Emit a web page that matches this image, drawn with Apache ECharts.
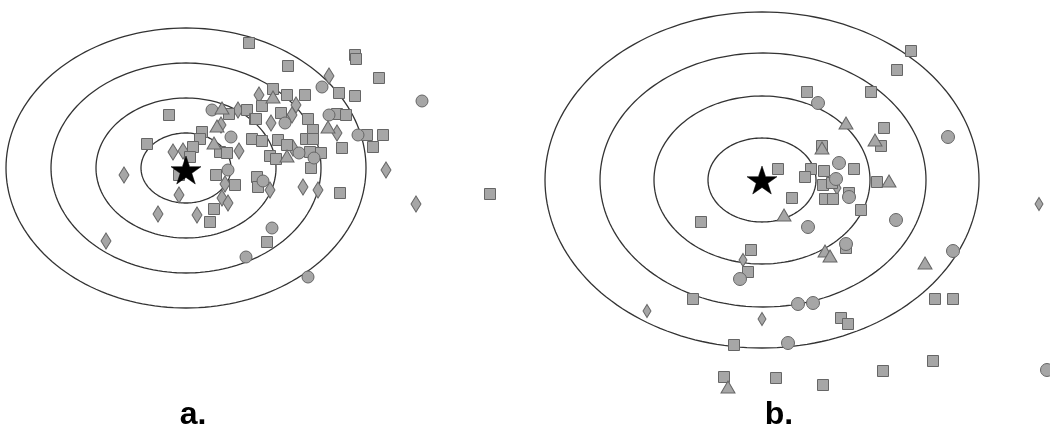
<!DOCTYPE html>
<html><head><meta charset="utf-8">
<script src="https://cdn.jsdelivr.net/npm/echarts@6/dist/echarts.min.js"></script>
<style>html,body{margin:0;padding:0;background:#fff}#c{width:1050px;height:433px}</style>
</head><body><div id="c"></div>
<script>
// Panel labels
const panelLabels = ['a.', 'b.'];
// Ellipse rings: [cx, cy, rx, ry]
const ringsA = [[186,168,45,35],[186,168,90,70],[186,168,135,105],[186,168,180,140]];
const ringsB = [[762,180,54,42],[762,180,108,84],[763,180,163,127],[762,180,217,168]];
// Target (star)
const starA = [[186,170]];
const starB = [[762,180]];
// Panel a points
const squaresA = [[249,43],[355,55],[356,59],[288,66],[379,78],[339,93],[355,96],[273,89],[287,95],[305,95],[229,114],[247,110],[255,119],[169,115],[262,106],[256,119],[281,113],[308,119],[337,114],[346,115],[313,130],[306,139],[313,139],[252,139],[262,141],[278,140],[287,145],[367,135],[383,135],[342,148],[373,147],[202,132],[200,139],[147,144],[193,147],[220,152],[227,153],[190,157],[270,156],[310,152],[321,153],[276,159],[311,168],[179,175],[216,175],[235,185],[257,177],[258,187],[340,193],[214,209],[210,222],[267,242],[490,194]];
const circlesA = [[212,110],[231,137],[322,87],[285,123],[329,115],[358,135],[299,153],[314,158],[228,170],[263,181],[422,101],[272,228],[246,257],[308,277]];
const trianglesA = [[222,108],[217,126],[214,143],[273,97],[328,127],[287,156]];
const diamondsA = [[238,110],[221,125],[173,152],[183,151],[239,151],[124,175],[179,195],[225,184],[222,198],[228,203],[158,214],[197,215],[106,241],[259,95],[296,105],[292,115],[285,119],[271,123],[337,133],[293,148],[329,76],[386,170],[416,204],[270,190],[303,187],[318,190]];
// Panel b points
const squaresB = [[911,51],[897,70],[807,92],[871,92],[884,128],[881,146],[822,146],[854,169],[811,169],[824,171],[805,177],[778,169],[877,182],[823,185],[832,183],[849,193],[825,199],[833,199],[792,198],[861,210],[846,248],[701,222],[751,250],[748,272],[693,299],[734,345],[724,377],[776,378],[823,385],[883,371],[933,361],[935,299],[953,299],[841,318],[848,324]];
const circlesB = [[818,103],[839,163],[836,179],[849,197],[808,227],[896,220],[948,137],[953,251],[798,304],[813,303],[788,343],[740,279],[846,244],[1047,370]];
const trianglesB = [[846,123],[875,140],[822,148],[889,181],[784,215],[825,251],[830,256],[925,263],[728,387]];
const diamondsB = [[743,260],[647,311],[762,319],[1039,204],[837,188]];

const FILL = '#a6a6a6', EDGE = '#666666';
const STAR = 'path://M50,0 L61.8,35.1 L98.9,35.1 L68.9,57 L80.3,92 L50,70.4 L19.7,92 L31.1,57 L1.1,35.1 L38.2,35.1 Z';

function ringSeries(data, idx) {
  return {
    type: 'custom', xAxisIndex: idx, yAxisIndex: idx, data: data, z: 1, silent: true,
    renderItem: function (params, api) {
      const c = api.coord([api.value(0), api.value(1)]);
      const e = api.coord([api.value(0) + api.value(2), api.value(1) + api.value(3)]);
      const rx = Math.abs(e[0] - c[0]), ry = Math.abs(e[1] - c[1]);
      const pts = [];
      for (let i = 0; i <= 180; i++) {
        const t = i / 180 * Math.PI * 2;
        pts.push([c[0] + rx * Math.cos(t), c[1] + ry * Math.sin(t)]);
      }
      return { type: 'polyline', shape: { points: pts }, style: { stroke: '#333', lineWidth: 1.3, fill: null } };
    }
  };
}
function pts(data, idx, symbol, size, z) {
  return {
    type: 'scatter', xAxisIndex: idx, yAxisIndex: idx, data: data, symbol: symbol, symbolSize: size,
    clip: false, z: z || 3, silent: true,
    itemStyle: { color: FILL, borderColor: EDGE, borderWidth: 1, opacity: 1 }
  };
}
function star(data, idx) {
  return { type: 'scatter', xAxisIndex: idx, yAxisIndex: idx, data: data, symbol: STAR, symbolSize: [30, 28],
    z: 5, silent: true, itemStyle: { color: '#000', borderColor: '#000', borderWidth: 0.5, opacity: 1 } };
}

const chart = echarts.init(document.getElementById('c'), null, { renderer: 'canvas' });
chart.setOption({
  animation: false,
  backgroundColor: '#fff',
  grid: [
    { left: 0, top: 0, width: 525, height: 433 },
    { left: 525, top: 0, width: 525, height: 433 }
  ],
  xAxis: [
    { type: 'value', gridIndex: 0, min: 0, max: 525, show: false },
    { type: 'value', gridIndex: 1, min: 525, max: 1050, show: false }
  ],
  yAxis: [
    { type: 'value', gridIndex: 0, min: 0, max: 433, inverse: true, show: false },
    { type: 'value', gridIndex: 1, min: 0, max: 433, inverse: true, show: false }
  ],
  graphic: [
    { type: 'text', x: 193, y: 431, style: { text: panelLabels[0], font: 'bold 32px "Liberation Sans", Arial', fill: '#000', textAlign: 'center', textVerticalAlign: 'bottom' } },
    { type: 'text', x: 779, y: 431, style: { text: panelLabels[1], font: 'bold 32px "Liberation Sans", Arial', fill: '#000', textAlign: 'center', textVerticalAlign: 'bottom' } }
  ],
  series: [
    ringSeries(ringsA, 0),
    ringSeries(ringsB, 1),
    pts(diamondsA, 0, 'diamond', [10, 16]),
    pts(squaresA, 0, 'rect', [11, 11]),
    pts(circlesA, 0, 'circle', 12),
    pts(trianglesA, 0, 'triangle', [14, 12]),
    pts(diamondsB, 1, 'diamond', [8, 13]),
    pts(squaresB, 1, 'rect', [11, 11]),
    pts(circlesB, 1, 'circle', 13),
    pts(trianglesB, 1, 'triangle', [14, 12]),
    star(starA, 0),
    star(starB, 1)
  ]
});
</script></body></html>
